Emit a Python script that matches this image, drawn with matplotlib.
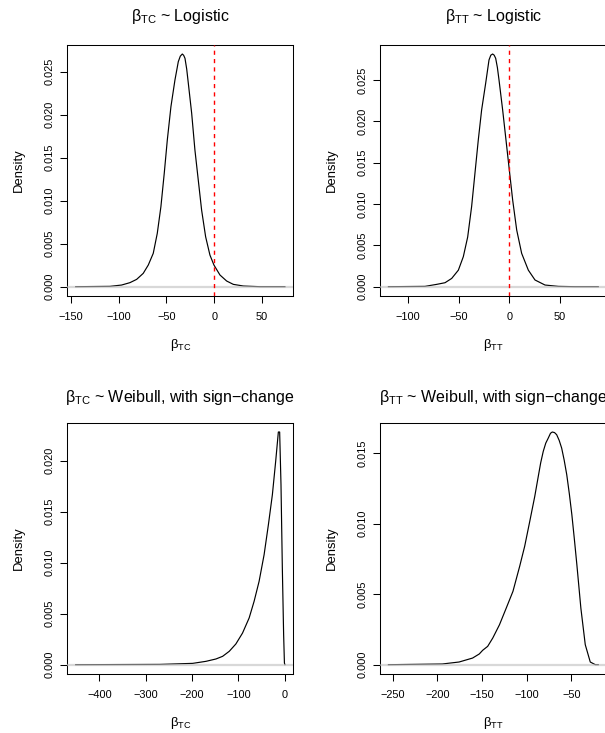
import numpy as np
import matplotlib
matplotlib.use("Agg")
import matplotlib.pyplot as plt

plt.rcParams['font.family'] = ['Liberation Sans', 'DejaVu Sans']
plt.rcParams['mathtext.fontset'] = 'custom'
plt.rcParams['mathtext.rm'] = 'Liberation Sans'
plt.rcParams['mathtext.it'] = 'Liberation Sans:italic'
plt.rcParams['mathtext.default'] = 'rm'

# densities
tc_logis_x = [-145, -109.2, -97, -88.2, -81.2, -74.3, -69, -63.8, -59.6, -55.8, -52.3, -49.1, -45.3,
              -41.1, -39, -37.6, -35.5, -33.4, -32, -30.6, -28.8, -27.1, -23.6, -20.2, -16.7, -13.2,
              -9, -4.5, -0.3, 6, 13, 20, 30.5, 48, 74]
tc_logis_y = [0, 0.00004, 0.00019, 0.00047, 0.00085, 0.00155, 0.00252, 0.00388, 0.0062, 0.0093,
              0.01318, 0.01705, 0.02093, 0.02403, 0.0253, 0.02616, 0.0268, 0.02705, 0.0269, 0.02655,
              0.0253, 0.02364, 0.02016, 0.01589, 0.0124, 0.00891, 0.00581, 0.00368, 0.00252, 0.00136,
              0.00066, 0.00027, 0.00008, 0, 0]

tt_logis_x = [-119.6, -83.4, -71.9, -63.6, -57, -50.4, -45.5, -41.2, -37.3, -34, -30.7, -27.4, -23.4,
              -20.1, -18.3, -16.5, -15, -13.5, -11.8, -10.2, -6.6, -3.3, 0, 3.3, 7.3, 12.2, 18.8,
              25.4, 35.3, 48.5, 65, 88]
tt_logis_y = [0, 0.00004, 0.00028, 0.00048, 0.001, 0.002, 0.00363, 0.006, 0.00968, 0.01371, 0.01774,
              0.02137, 0.0246, 0.02742, 0.0280, 0.02814, 0.0280, 0.02762, 0.0265, 0.025, 0.02137,
              0.01774, 0.01411, 0.01048, 0.00685, 0.00403, 0.002, 0.00081, 0.0002, 0.00004, 0, 0]

tc_weib_x = [-451.4, -270, -198.6, -169.9, -148.4, -134, -119.7, -105.4, -91, -76.7, -66, -55.2,
             -44.4, -35.1, -26.5, -19.4, -13.6, -10.8, -7.9, -5, -2.2, -0.5, 0.6]
tc_weib_y = [0, 0.00003, 0.00013, 0.00033, 0.00056, 0.00082, 0.00131, 0.00203, 0.0031, 0.00458,
             0.00621, 0.00817, 0.01078, 0.01373, 0.01667, 0.01993, 0.02281, 0.02281, 0.01765,
             0.00948, 0.00294, 0.00016, 0]

tt_weib_x = [-254.9, -194.6, -175.8, -160.7, -153.2, -149.4, -143.8, -138.1, -130.6, -123.1, -115.5,
             -108, -102.4, -96.7, -91.1, -87.3, -84.5, -81.6, -78.8, -76, -73.5, -71.5, -69, -66.6,
             -63.8, -61, -58.2, -55.3, -52.4, -49.6, -46.8, -44, -39.5, -34.6, -29, -23.3, -20]
tt_weib_y = [0, 0.00005, 0.00019, 0.00047, 0.00076, 0.00102, 0.0013, 0.00189, 0.00283, 0.0040, 0.0052,
             0.00697, 0.00839, 0.01016, 0.01193, 0.0133, 0.0143, 0.01512, 0.0157, 0.01606, 0.0164,
             0.01649, 0.01645, 0.0163, 0.0159, 0.01535, 0.0145, 0.01346, 0.0121, 0.01063, 0.0089,
             0.00709, 0.0040, 0.00142, 0.00019, 0, 0]

titles = ['β$_{\\mathrm{TC}}$ ~ Logistic', 'β$_{\\mathrm{TT}}$ ~ Logistic',
          'β$_{\\mathrm{TC}}$ ~ Weibull, with sign\u2212change',
          'β$_{\\mathrm{TT}}$ ~ Weibull, with sign\u2212change']
xlabels = ['β$_{\\mathrm{TC}}$', 'β$_{\\mathrm{TT}}$', 'β$_{\\mathrm{TC}}$', 'β$_{\\mathrm{TT}}$']
xticks = [[-150, -100, -50, 0, 50], [-100, -50, 0, 50],
          [-400, -300, -200, -100, 0], [-250, -200, -150, -100, -50]]
yticks = [[0, 0.005, 0.010, 0.015, 0.020, 0.025], [0, 0.005, 0.010, 0.015, 0.020, 0.025],
          [0, 0.005, 0.010, 0.015, 0.020], [0, 0.005, 0.010, 0.015]]
show_zero = [True, True, False, False]

xs = [tc_logis_x, tt_logis_x, tc_weib_x, tt_weib_x]
ys = [tc_logis_y, tt_logis_y, tc_weib_y, tt_weib_y]

W, H = 605, 733
fig = plt.figure(figsize=(W / 100, H / 100), dpi=100)

# axes boxes in pixels: left, top, width, height
boxes = [(67.3, 44.7, 226, 251.3), (380, 44.7, 226.7, 251.3),
         (67.3, 422.7, 226, 251.3), (380, 422.7, 226.7, 251.3)]
title_y = [16.7, 16.7, 398, 398]

for i in range(4):
    l, t, w, h = boxes[i]
    ax = fig.add_axes([l / W, 1 - (t + h) / H, w / W, h / H])
    ax.plot(xs[i], ys[i], color='black', lw=0.85)
    ax.axhline(0, color='#bebebe', lw=1.6, alpha=0.6, zorder=3)
    if show_zero[i]:
        ax.axvline(0, color='red', lw=1.0, linestyle=(0, (3, 3)), zorder=4)
    ax.margins(0.04)
    ax.set_xticks(xticks[i])
    ax.set_xticklabels([str(v) if v >= 0 else '\u2212' + str(-v) for v in xticks[i]])
    ax.set_yticks(yticks[i])
    ax.set_yticklabels(['%.3f' % v for v in yticks[i]], rotation=90, va='center')
    ax.tick_params(direction='out', length=5, width=0.75, labelsize=7.9, colors='black')
    ax.tick_params(axis='x', pad=6.5)
    ax.tick_params(axis='y', pad=4)
    for s in ax.spines.values():
        s.set_linewidth(0.75)
    ax.set_ylabel('Density', fontsize=9.4)
    ax.yaxis.set_label_coords(-48 / w, 0.5)
    ax.yaxis.label.set_va('center')
    ax.set_xlabel(xlabels[i], fontsize=9.4)
    ax.xaxis.set_label_coords(0.5, -49 / h)
    ax.xaxis.label.set_va('center')
    ax.text(0.5, 1 + (t - title_y[i]) / h, titles[i], transform=ax.transAxes,
            ha='center', va='center', fontsize=11.5)

fig.savefig('out.png', dpi=100)
